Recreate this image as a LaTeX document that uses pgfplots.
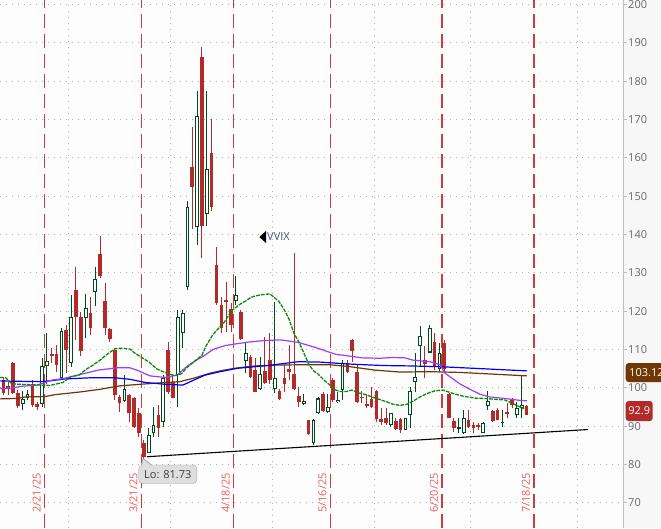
\documentclass[border=0pt]{standalone}
\usepackage{fontspec}
\setmainfont{Open Sans}
\usepackage{pgfplots}
\pgfplotsset{compat=1.18}
\usepackage{pgfplotstable}

\definecolor{candred}{RGB}{178,42,42}
\definecolor{candgreen}{RGB}{0,75,30}
\definecolor{magreen}{RGB}{10,140,10}
\definecolor{mapurple}{RGB}{160,60,250}
\definecolor{mablue}{RGB}{0,0,255}
\definecolor{mabrown}{RGB}{110,55,5}
\definecolor{exred}{RGB}{205,60,60}
\definecolor{datered}{RGB}{232,95,95}
\definecolor{gridgray}{RGB}{175,175,175}
\definecolor{ticklab}{RGB}{105,105,105}
\definecolor{axisgray}{RGB}{190,190,190}
\definecolor{bgleft}{RGB}{253,253,253}
\definecolor{bgright}{RGB}{247,247,247}
\definecolor{callfill}{RGB}{222,222,222}
\definecolor{callborder}{RGB}{165,165,165}
\definecolor{vvixcol}{RGB}{70,85,110}
\definecolor{calltext}{RGB}{60,60,60}

\pgfplotstableread{
i o h l c
0 102.0 102.9 98.1 98.7
1 100.5 101.6 98.1 99.7
2 106.5 106.8 98.5 98.7
3 98.7 99.4 94.6 95.3
6 101.1 102.0 95.0 95.5
7 95.7 96.3 94.2 95.0
10 108.8 110.5 106.5 108.4
11 108.8 111.1 104.2 105.9
13 115.1 116.4 103.8 109.8
15 125.5 131.6 112.5 118.5
16 118.5 119.8 108.4 109.6
18 119.6 123.6 113.9 115.7
20 134.9 139.6 128.7 129.2
21 122.6 127.3 113.8 115.7
22 115.3 115.7 112.0 112.7
23 109.8 110.3 96.8 98.1
24 97.7 98.1 93.7 95.9
26 98.1 98.5 91.0 93.3
27 97.3 97.7 89.4 89.8
28 93.3 94.6 87.2 88.1
29 85.6 86.3 81.73 82.0
32 92.9 95.5 87.2 89.6
34 109.8 112.0 98.5 99.0
35 101.6 103.3 97.2 97.4
39 157.6 168.1 141.5 152.4
41 186.3 189.0 133.9 142.2
43 161.2 170.2 146.2 147.3
44 132.0 136.8 121.6 122.2
45 121.6 123.8 114.2 115.5
46 122.9 127.7 114.6 122.5
47 120.5 122.0 114.6 116.4
49 119.8 120.3 112.5 112.6
51 108.1 108.5 102.5 102.9
52 104.6 107.7 98.9 99.0
54 104.4 113.2 101.1 101.3
55 107.2 114.2 101.1 102.0
57 99.1 99.8 96.8 97.0
58 102.6 105.9 98.9 101.0
59 105.0 111.1 102.0 104.2
60 103.6 135.1 99.4 99.7
61 97.9 100.3 95.0 96.2
63 91.6 91.7 87.8 87.9
66 98.3 99.0 93.7 93.9
68 102.0 102.5 96.3 96.8
71 106.4 107.2 103.8 104.2
72 112.5 112.6 106.8 109.7
73 104.2 105.9 95.9 96.3
74 97.7 99.1 95.9 97.2
75 95.7 98.1 94.6 95.3
76 97.0 100.3 94.6 95.0
77 99.2 99.4 91.1 91.8
78 91.8 94.6 90.3 91.0
79 92.0 94.6 90.3 90.7
81 91.3 92.0 89.1 89.2
82 91.8 92.0 88.1 89.1
87 107.2 110.9 102.6 106.1
89 112.0 114.2 104.6 105.3
91 111.6 112.5 104.2 104.8
92 98.5 98.6 92.0 92.2
93 91.3 92.0 88.5 89.6
96 91.6 94.2 89.4 89.7
97 90.4 91.1 88.1 89.6
98 90.3 90.7 89.0 89.8
101 93.9 94.2 91.1 91.3
102 94.2 94.6 91.5 91.6
104 93.7 95.9 92.0 93.1
105 96.8 97.2 94.6 95.5
108 95.2 95.5 92.8 92.9
}\redtab

\pgfplotstableread{
i o h l c
-1 97.0 103.0 96.5 102.5
4 95.7 99.1 94.2 97.0
5 97.4 99.4 96.8 98.5
8 95.7 107.8 95.0 105.8
9 105.6 114.2 101.1 106.9
12 102.5 115.5 102.0 114.8
14 106.4 124.2 105.5 118.5
17 118.1 124.5 113.0 120.7
19 124.9 131.6 121.4 128.3
25 96.6 103.3 96.3 99.6
30 83.0 89.4 82.9 87.6
31 88.1 95.0 87.2 90.3
33 91.1 103.3 89.8 102.5
36 103.3 120.3 95.0 118.4
37 114.2 120.3 110.3 119.4
38 126.4 148.7 125.5 147.1
40 142.0 177.5 137.3 170.9
42 145.3 177.5 142.2 157.0
48 122.7 129.2 121.6 124.2
50 107.0 111.6 103.9 109.0
53 99.6 107.9 99.4 103.5
56 99.6 122.4 98.6 102.5
62 95.7 98.4 95.6 96.5
64 85.6 91.8 85.0 91.7
65 93.3 97.7 93.2 97.2
67 93.6 98.3 93.5 94.9
69 96.2 99.0 96.1 96.8
70 99.4 107.2 96.8 106.4
80 90.3 93.4 89.8 93.3
83 89.0 92.1 88.9 92.0
84 92.9 100.3 89.4 99.1
85 101.4 109.0 99.0 102.9
86 110.9 116.1 105.5 113.5
88 109.2 116.4 109.1 115.5
90 104.8 111.6 104.2 109.0
94 89.3 92.0 88.1 89.8
95 88.1 94.2 88.0 92.0
99 88.3 91.1 88.1 90.7
100 95.2 99.1 94.2 96.5
103 90.7 94.2 89.8 91.1
106 92.9 96.2 92.0 94.8
107 94.6 103.3 92.0 95.5
}\greentab

\pgfplotsset{
  candle/.style 2 args={draw=none, no markers, forget plot,
    error bars/.cd, y dir=plus, y explicit, error mark=none,
    error bar style={draw=#1, solid, line width=#2}},
}

\begin{document}
\begin{tikzpicture}[x=1pt,y=1pt]
\useasboundingbox (0,0) rectangle (661,528);
\fill[bgleft] (0,0) rectangle (623,528);
\fill[bgright] (623,0) rectangle (661,528);
\begin{axis}[
  at={(0,0)}, anchor=south west,
  scale only axis, width=623pt, height=528pt,
  xmin=-0.681, xmax=127.88, ymin=63.4, ymax=201.2,
  axis x line*=bottom, axis y line*=right,
  x axis line style={draw=none},
  y axis line style={draw=axisgray, line width=0.9pt},
  xtick={13.5,34.5,55.5,76.5,96.5,118.5},
  xticklabels={},
  xtick style={draw=none},
  xmajorgrids=true, ymajorgrids=true,
  ytick={70,80,...,200},
  major grid style={gridgray, line width=1pt, dash pattern=on 1pt off 5pt},
  ytick style={draw=axisgray, line width=0.9pt},
  tick align=outside, major tick length=4pt,
  yticklabel style={font=\fontsize{11}{13}\selectfont, text=ticklab, anchor=west, inner sep=0pt, xshift=1pt},
  /pgf/number format/assume math mode=true,
  extra x ticks={8.5,28.5,47.5,67.5,90.5,109.5},
  extra x tick labels={},
  extra x tick style={xmajorgrids=true, major grid style={exred, line width=1.3pt, dash pattern=on 14pt off 6pt}, xtick style={draw=none}},
  clip=true,
]
% red candles
\addplot[candle={candred}{1pt}] table[x=i, y=l, y error expr=\thisrow{h}-\thisrow{l}] {\redtab};
\addplot[candle={candred}{3.6pt}] table[x=i, y=c, y error expr=\thisrow{o}-\thisrow{c}] {\redtab};
% green candles
\addplot[candle={candgreen}{1pt}] table[x=i, y=l, y error expr=\thisrow{h}-\thisrow{l}] {\greentab};
\addplot[candle={candgreen}{3.8pt}] table[x=i, y=o, y error expr=\thisrow{c}-\thisrow{o}] {\greentab};
\addplot[candle={white}{1.8pt}] table[x=i, y expr=\thisrow{o}+0.27, y error expr={max(\thisrow{c}-\thisrow{o}-0.54,0)}] {\greentab};

% moving averages
\addplot[mabrown, line width=1.2pt] coordinates {
(-0.68,97.1) (2.83,97.2) (4.48,97.6) (8.61,97.7) (10.67,98.2) (15.83,98.9) (19.95,99.6) (24.08,100.5) (27.18,100.8) (31.30,101.2) (36.46,101.6) (39.56,102.6) (42.65,103.8) (45.13,104.5) (47.81,105.1) (51.94,105.7) (56.07,105.9) (61.23,106.0) (67.41,106.0) (71.54,105.5) (76.70,104.6) (81.86,104.1) (88.05,104.2) (94.24,104.0) (100.43,103.6) (108.07,103.1)};
\addplot[mablue, line width=1.2pt] coordinates {
(-0.68,101.8) (2.41,101.7) (7.57,101.6) (9.64,101.8) (12.73,102.3) (17.89,102.6) (23.05,102.6) (26.15,102.2) (29.24,101.4) (33.37,100.9) (37.08,100.7) (38.94,101.8) (41.62,103.3) (44.71,104.2) (48.43,105.1) (54.62,105.8) (60.81,106.8) (65.35,106.7) (71.13,106.2) (78.35,105.8) (83.92,105.7) (90.12,105.5) (98.37,105.0) (108.07,104.4)};
\addplot[mapurple, line width=1.2pt] coordinates {
(-0.68,99.8) (2.00,100.0) (3.86,100.4) (6.95,100.7) (10.05,102.0) (12.32,102.4) (14.38,103.0) (17.27,103.9) (19.54,104.6) (23.46,105.2) (26.15,105.2) (27.59,104.6) (30.27,103.1) (33.37,102.7) (35.84,103.3) (37.90,105.6) (39.56,107.0) (41.62,108.5) (43.27,110.0) (45.75,111.0) (48.22,111.5) (50.50,111.9) (53.59,112.3) (57.10,112.5) (60.61,111.9) (62.88,111.1) (64.94,110.3) (67.00,109.4) (68.65,108.7) (70.10,108.5) (74.02,107.8) (77.73,107.7) (80.42,107.9) (82.89,107.8) (84.55,107.2) (88.05,106.8) (90.12,106.0) (91.15,103.8) (92.59,102.5) (94.24,101.0) (96.30,99.6) (98.37,98.3) (100.43,97.6) (103.53,97.2) (106.62,96.7) (108.07,96.6)};
\addplot[magreen, line width=1.3pt, dash pattern=on 3.8pt off 1.1pt] coordinates {
(-0.68,102.7) (0.5,102.6) (1.80,101.0) (5.51,100.8) (9.64,100.6) (12.32,101.4) (13.97,102.9) (15.62,103.3) (17.07,104.8) (18.51,105.9) (19.95,107.2) (21.19,108.5) (23.05,110.2) (24.29,110.3) (26.15,110.1) (27.18,109.0) (28.83,107.7) (30.07,106.7) (31.72,104.9) (32.96,104.2) (34.40,103.5) (35.64,103.2) (36.67,103.6) (38.12,105.5) (39.77,107.2) (41.00,108.5) (41.83,110.9) (43.07,113.5) (43.89,114.8) (45.54,117.0) (47.19,120.2) (48.85,121.8) (50.08,122.7) (51.11,123.6) (52.15,124.0) (53.38,124.3) (55.03,124.5) (55.86,123.6) (56.89,122.5) (57.92,120.5) (58.96,117.9) (59.99,114.2) (61.02,111.9) (62.05,109.0) (63.08,106.0) (64.12,104.3) (64.94,103.6) (66.18,102.0) (67.21,100.9) (68.24,99.6) (69.48,99.0) (70.72,99.0) (71.96,99.4) (73.19,98.7) (75.05,98.1) (76.29,97.5) (77.73,96.9) (79.18,96.3) (80.42,95.7) (81.86,95.4) (83.31,95.7) (84.55,96.5) (85.99,97.6) (87.44,98.5) (89.08,99.2) (90.73,99.4) (92.80,98.5) (94.86,97.8) (97.34,97.3) (99.40,97.2) (101.47,97.0) (103.53,96.8) (105.60,95.6) (107.45,94.5)};

% trend line
\addplot[black, line width=1.1pt] coordinates {(29.65,82.0) (120.66,89.1)};

% date labels
\node[rotate=90, text=datered, font=\fontsize{11}{13}\selectfont, inner sep=0pt] at (axis cs:6.87,72.5) {2/21/25};
\node[rotate=90, text=datered, font=\fontsize{11}{13}\selectfont, inner sep=0pt] at (axis cs:26.87,72.5) {3/21/25};
\node[rotate=90, text=datered, font=\fontsize{11}{13}\selectfont, inner sep=0pt] at (axis cs:45.87,72.5) {4/18/25};
\node[rotate=90, text=datered, font=\fontsize{11}{13}\selectfont, inner sep=0pt] at (axis cs:65.87,72.5) {5/16/25};
\node[rotate=90, text=datered, font=\fontsize{11}{13}\selectfont, inner sep=0pt] at (axis cs:88.87,72.5) {6/20/25};
\node[rotate=90, text=datered, font=\fontsize{11}{13}\selectfont, inner sep=0pt] at (axis cs:107.87,72.5) {7/18/25};

% Lo callout
\node[draw=callborder, fill=callfill, rounded corners=4pt, inner xsep=5.5pt, inner ysep=0pt, minimum height=18.5pt, font=\fontsize{11}{13}\selectfont, text=calltext] at (axis cs:33.95,77.42) {Lo: 81.73};
\fill[callfill] (axis cs:28.45,79.55) -- (axis cs:28.89,81.57) -- (axis cs:30.62,79.55) -- cycle;
\draw[callborder, line width=0.8pt] (axis cs:28.45,79.8) -- (axis cs:28.89,81.57) -- (axis cs:30.62,79.8);

% VVIX label
\fill[black] (axis cs:52.83,139.35) -- (axis cs:54.21,140.91) -- (axis cs:54.21,137.78) -- cycle;
\node[anchor=west, text=vvixcol, font=\fontsize{11}{13}\selectfont, inner sep=0.6pt] at (axis cs:54.3,139.35) {VVIX};
\end{axis}

% right-side value tags
\node[fill=mabrown, text=white, rounded corners=3pt, anchor=west, minimum height=19pt, inner ysep=0pt, inner xsep=3.5pt, font=\fontsize{11}{13}\selectfont] at (625.5,155.5) {103.12};
\node[fill=candred, text=white, rounded corners=3pt, anchor=west, minimum height=20pt, inner ysep=0pt, inner xsep=2.6pt, font=\fontsize{11}{13}\selectfont] at (625.5,117) {92.9};
\end{tikzpicture}
\end{document}
